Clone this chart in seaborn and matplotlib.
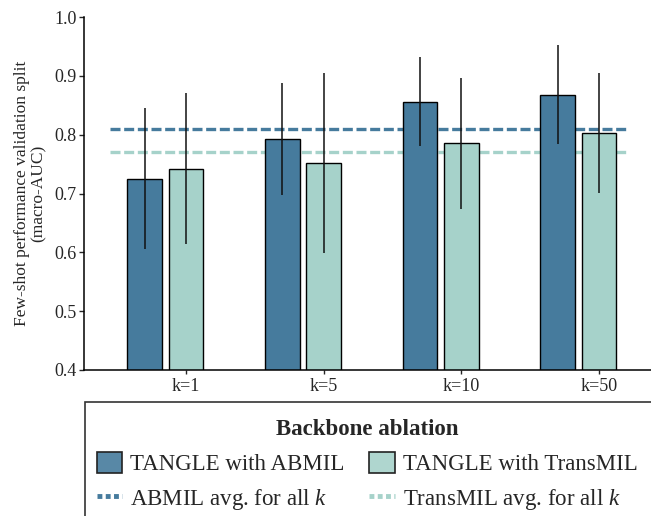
import numpy as np
import pandas as pd
import matplotlib
matplotlib.use("Agg")
import matplotlib.pyplot as plt
import seaborn as sns
from matplotlib.patches import Patch, Rectangle
from matplotlib.lines import Line2D
from matplotlib.colors import to_rgba

# ---- data ----
k_labels = ["k=1", "k=5", "k=10", "k=50"]
abmil_auc = [0.725, 0.792, 0.856, 0.868]
abmil_err = [0.120, 0.095, 0.076, 0.084]
transmil_auc = [0.742, 0.752, 0.785, 0.803]
transmil_err = [0.128, 0.153, 0.112, 0.102]
series_names = ["TANGLE with ABMIL", "TANGLE with TransMIL"]
avg_labels = ["ABMIL avg. for all $k$", "TransMIL avg. for all $k$"]
legend_title = "Backbone ablation"
y_label = "Few-shot performance validation split\n(macro-AUC)"
y_ticks = [0.4, 0.5, 0.6, 0.7, 0.8, 0.9, 1.0]

# ---- style ----
c_abmil = "#467B9D"
c_trans = "#A6D2CA"

sns.set_style("ticks")
plt.rcParams["font.family"] = ["Liberation Serif", "DejaVu Serif"]
plt.rcParams["mathtext.fontset"] = "custom"
plt.rcParams["mathtext.it"] = "Liberation Serif:italic"
plt.rcParams["mathtext.rm"] = "Liberation Serif"

df = pd.DataFrame({
    "k": k_labels * 2,
    "model": [series_names[0]] * 4 + [series_names[1]] * 4,
    "auc": abmil_auc + transmil_auc,
})

fig = plt.figure(figsize=(6.51, 5.16), dpi=100)
ax = fig.add_axes([84 / 651, 1 - 370 / 516, (651 - 84) / 651, (370 - 17) / 516])

pad_level = " "
sns.barplot(
    data=df, x="k", y="auc", hue="model",
    hue_order=series_names + [pad_level],
    palette={series_names[0]: c_abmil, series_names[1]: c_trans, pad_level: "white"},
    width=0.9, gap=1 / 6, saturation=1, errorbar=None,
    edgecolor="black", linewidth=1.0, legend=False, ax=ax, zorder=2,
)

for cont, errs in zip(ax.containers, [abmil_err, transmil_err]):
    xs = [p.get_x() + p.get_width() / 2 for p in cont]
    ys = [p.get_y() + p.get_height() for p in cont]
    ax.errorbar(xs, ys, yerr=errs, fmt="none", ecolor="#111111",
                elinewidth=1.1, capsize=0, zorder=3)

dash = (0, (3.0, 1.1))
ax.hlines(np.mean(abmil_auc), -0.55, 3.2, colors=c_abmil, linestyles=[dash],
          linewidth=2.4, zorder=1)
ax.hlines(np.mean(transmil_auc), -0.55, 3.2, colors=c_trans, linestyles=[dash],
          linewidth=2.4, zorder=1)

ax.set_xlim(-0.741, 3.378)
ax.set_ylim(0.4, 1.0)
ax.set_yticks(y_ticks)
ax.set_yticklabels([f"{v:.1f}" for v in y_ticks])
ax.set_xlabel("")
ax.set_ylabel(y_label, fontsize=12.5, labelpad=5, linespacing=1.05)
ax.tick_params(axis="y", labelsize=13, length=3.5, width=1, pad=2)
ax.tick_params(axis="x", labelsize=13, length=3, width=1, pad=3)
sns.despine(ax=ax)
for s in ["left", "bottom"]:
    ax.spines[s].set_linewidth(1.1)
    ax.spines[s].set_color("black")

# ---- legend ----
handles = [
    Patch(facecolor=to_rgba(c_abmil, 0.9), edgecolor="#222222", linewidth=1.2),
    Line2D([], [], color=c_abmil, linewidth=3.5, linestyle=(0, (1.0, 0.7))),
    Patch(facecolor=to_rgba(c_trans, 0.9), edgecolor="#222222", linewidth=1.2),
    Line2D([], [], color=c_trans, linewidth=3.5, linestyle=(0, (1.0, 0.7))),
]
labels = [series_names[0], avg_labels[0], series_names[1], avg_labels[1]]
leg = fig.legend(
    handles, labels, ncol=2, loc="upper center",
    bbox_to_anchor=(367 / 651, 1 - 403 / 516), bbox_transform=fig.transFigure,
    frameon=False, fontsize=16.5, title=legend_title,
    title_fontproperties={"weight": "bold", "size": 16.5},
    handlelength=1.1, handleheight=1.05, handletextpad=0.35,
    columnspacing=1.1, labelspacing=0.5, borderpad=0.2,
)
fig.add_artist(Rectangle((85 / 651, -0.2), 1.0, (1 - 402 / 516) + 0.2,
                         transform=fig.transFigure, fill=False,
                         edgecolor="#333333", linewidth=1.2, clip_on=False))

fig.savefig("out.png", dpi=100)
